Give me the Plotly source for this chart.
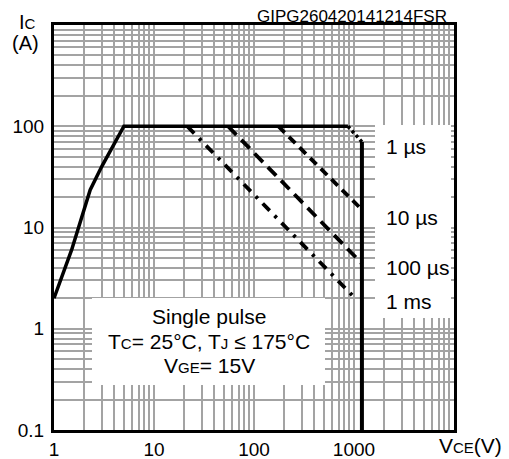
import plotly.graph_objects as go

# ---- data ----
boundary_v = [1, 1.5, 2.3, 3, 5, 870]
boundary_i = [2, 6, 23.5, 40, 100, 100]
limit_v = [1200, 1200]
limit_i = [70, 0.1]
us1_v = [870, 1200]
us1_i = [100, 70]
us10_v = [175, 1200]
us10_i = [100, 15]
us100_v = [55, 1200]
us100_i = [100, 4.4]
ms1_v = [21.5, 1070]
ms1_i = [100, 1.92]

pulse_labels = ["1 µs", "10 µs", "100 µs", "1 ms"]
x_tick_labels = ["1", "10", "100", "1000"]
y_tick_labels = ["0.1", "1", "10", "100"]

FONT = "Liberation Sans, Arial, sans-serif"

# grid positions: every digit in each decade
x_grid = [d * 10 ** k for k in range(0, 4) for d in range(1, 10)] + [10000]
x_text = [(str(v) if v in (1, 10, 100, 1000) else "") for v in x_grid]
y_grid = [d * 10.0 ** k for k in range(-1, 3) for d in range(1, 10)] + [1000]
y_map = {0.1: "0.1", 1: "1", 10: "10", 100: "100"}
y_text = []
for v in y_grid:
    lab = ""
    for key, t in y_map.items():
        if abs(v - key) < 1e-9:
            lab = t
    y_text.append(lab)

fig = go.Figure()
blk = "black"
fig.add_trace(go.Scatter(x=boundary_v, y=boundary_i, mode="lines",
                         line=dict(color=blk, width=3.5), hoverinfo="skip"))
fig.add_trace(go.Scatter(x=limit_v, y=limit_i, mode="lines",
                         line=dict(color=blk, width=4), hoverinfo="skip"))
fig.add_trace(go.Scatter(x=us1_v, y=us1_i, mode="lines",
                         line=dict(color=blk, width=3.5, dash="3px,3px"), hoverinfo="skip"))
fig.add_trace(go.Scatter(x=us10_v, y=us10_i, mode="lines",
                         line=dict(color=blk, width=3.8, dash="9px,6px"), hoverinfo="skip"))
fig.add_trace(go.Scatter(x=us100_v, y=us100_i, mode="lines",
                         line=dict(color=blk, width=3.8, dash="12px,7px"), hoverinfo="skip"))
fig.add_trace(go.Scatter(x=ms1_v, y=ms1_i, mode="lines",
                         line=dict(color=blk, width=3.8, dash="10px,7px,3px,7px"), hoverinfo="skip"))

W, H = 509, 459
L, R, T, B = 54, 55, 25, 29
PW, PH = W - L - R, H - T - B


def px(x):
    return (x - L) / PW


def py(y):
    return (H - B - y) / PH


gridc = "#a3a3a3"
fig.update_layout(
    width=W, height=H, autosize=False,
    margin=dict(l=L, r=R, t=T, b=B, pad=0, autoexpand=False),
    paper_bgcolor="white", plot_bgcolor="white",
    showlegend=False,
    font=dict(family=FONT, color="black", size=19),
    xaxis=dict(type="log", range=[0, 4], tickmode="array", tickvals=x_grid, ticktext=x_text,
               showgrid=True, gridcolor=gridc, gridwidth=2, zeroline=False, automargin=False,
               showline=True, linecolor="black", linewidth=3, mirror=True, ticks="",
               tickfont=dict(size=19)),
    yaxis=dict(type="log", range=[-1, 3], tickmode="array", tickvals=y_grid, ticktext=y_text,
               showgrid=True, gridcolor=gridc, gridwidth=2, zeroline=False, automargin=False,
               showline=True, linecolor="black", linewidth=3, mirror=True, ticks="",
               tickfont=dict(size=19), ticklabelstandoff=3),
)

# white label backgrounds
fig.add_shape(type="rect", xref="paper", yref="paper", layer="above",
              x0=px(375), x1=px(451), y0=py(318), y1=py(125),
              fillcolor="white", line=dict(width=0))
fig.add_shape(type="rect", xref="paper", yref="paper", layer="above",
              x0=px(92), x1=px(325), y0=py(385), y1=py(298),
              fillcolor="white", line=dict(width=0))

label_y = [146, 217, 267, 301]
for lab, yy in zip(pulse_labels, label_y):
    fig.add_annotation(text=lab, xref="paper", yref="paper", x=px(384), y=py(yy),
                       xanchor="left", yanchor="middle", showarrow=False,
                       font=dict(size=21))

sm = "<span style='font-size:15px'>"
box_lines = ["Single pulse",
             "T" + sm + "C</span>= 25°C, T" + sm + "J</span> ≤ 175°C",
             "V" + sm + "GE</span>= 15V"]
box_y = [316, 341, 365]
for t, yy in zip(box_lines, box_y):
    fig.add_annotation(text=t, xref="paper", yref="paper", x=px(209), y=py(yy),
                       xanchor="center", yanchor="middle", showarrow=False,
                       font=dict(size=21))

fig.add_annotation(text="I" + sm + "C</span>", xref="paper", yref="paper",
                   x=px(27), y=py(22), xanchor="center", yanchor="middle",
                   showarrow=False, font=dict(size=20))
fig.add_annotation(text="(A)", xref="paper", yref="paper",
                   x=px(26), y=py(43), xanchor="center", yanchor="middle",
                   showarrow=False, font=dict(size=20))
fig.add_annotation(text="V" + sm + "CE</span>(V)", xref="paper", yref="paper",
                   x=px(470), y=py(446), xanchor="center", yanchor="middle",
                   showarrow=False, font=dict(size=21))
fig.add_annotation(text="GIPG260420141214FSR", xref="paper", yref="paper",
                   x=px(352), y=py(16), xanchor="center", yanchor="middle",
                   showarrow=False, font=dict(size=17))

fig.write_html("out.html")
